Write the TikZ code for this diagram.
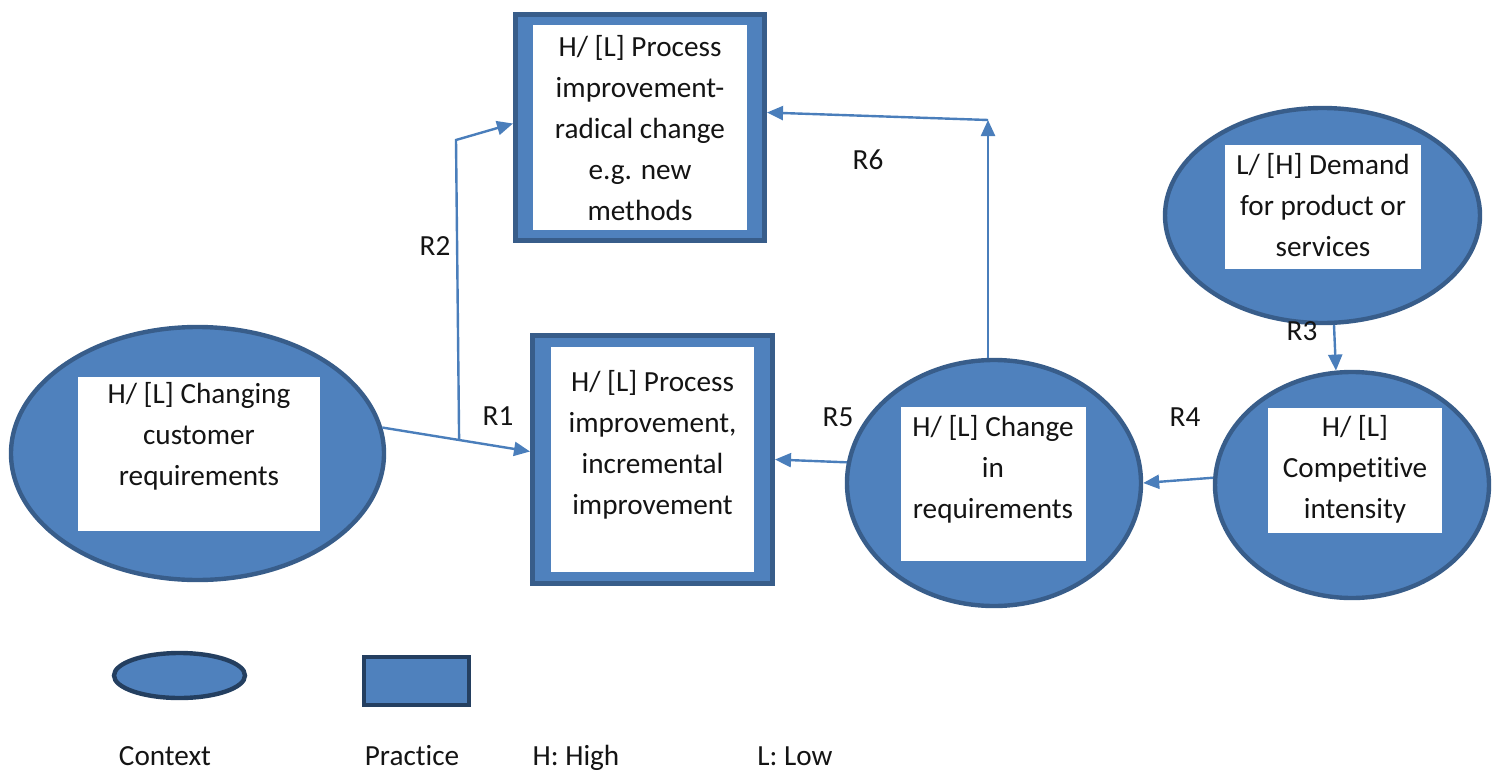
\documentclass[tikz,border=0pt]{standalone}
\usepackage{fontspec}
\setmainfont{Carlito}[Ligatures=NoCommon]
\usetikzlibrary{arrows.meta,shapes.geometric}
\definecolor{ctxfill}{HTML}{4F81BD}
\definecolor{ctxedge}{HTML}{385D8A}
\definecolor{keyedge}{HTML}{243F60}
\definecolor{linkcol}{HTML}{4A7EBB}
\definecolor{ink}{HTML}{141414}
\begin{document}
\begin{tikzpicture}[x=0.5pt,y=-0.5pt,
  font=\fontsize{14.6}{20.5}\selectfont,
  context/.style={ellipse, draw=ctxedge, line width=2.2pt, fill=ctxfill, inner sep=0pt},
  practice/.style={rectangle, draw=ctxedge, line width=2.5pt, fill=ctxfill, inner sep=0pt},
  card/.style={rectangle, fill=white, inner sep=0pt},
  txt/.style={align=center, text=ink, inner sep=0pt},
  link/.style={draw=linkcol, line width=1.2pt, -{Triangle[length=8pt,width=7pt]}},
  tag/.style={text=ink, anchor=base, inner sep=0pt}]
\useasboundingbox (0,0) rectangle (1493,771);

% practice: radical change
\node[practice, minimum width=124.5pt, minimum height=113pt] (tbox) at (640,127.5) {};
\node[card, minimum width=107pt, minimum height=102.5pt] (tcard) at (640,127.5) {};
\node[txt] (ttext) at (640,128) {H/ [L] Process\\improvement-\\radical change\\e.g. new\\methods};

% practice: incremental improvement
\node[practice, minimum width=120pt, minimum height=124pt] (mbox) at (652.5,459.5) {};
\node[card, minimum width=101.5pt, minimum height=112.5pt] (mcard) at (652.5,459.5) {};
\node[txt] (mtext) at (652.5,444.5) {H/ [L] Process\\improvement,\\incremental\\improvement};

% context: changing customer requirements
\node[context, minimum width=186.5pt, minimum height=126.5pt] (lell) at (197.5,453.5) {};
\node[card, minimum width=121pt, minimum height=77pt] (lcard) at (199,454) {};
\node[txt] (ltext) at (199,436) {H/ [L] Changing\\customer\\requirements};

% context: change in requirements
\node[context, minimum width=147pt, minimum height=123pt] (cell) at (994,483) {};
\node[card, minimum width=92.5pt, minimum height=77pt] (ccard) at (993.5,484) {};
\node[txt] (ctext) at (993,469) {H/ [L] Change\\in\\requirements};

% context: demand
\node[context, minimum width=157.5pt, minimum height=107.5pt] (dell) at (1322.5,215.5) {};
\node[card, minimum width=98pt, minimum height=62pt] (dcard) at (1323,207) {};
\node[txt] (dtext) at (1323,205) {L/ [H] Demand\\for product or\\services};

% context: competitive intensity
\node[context, minimum width=137pt, minimum height=113pt] (kell) at (1352,485) {};
\node[card, minimum width=87pt, minimum height=62.5pt] (kcard) at (1355,470.5) {};
\node[txt] (ktext) at (1355,469) {H/ [L]\\Competitive\\intensity};

% relations
\draw[link] (lell.8) -- coordinate[pos=0.52] (r2foot) ([yshift=4pt]mbox.west);
\coordinate (r2bend) at (456,140);
\draw[link] (r2foot) -- (r2bend) -- ([yshift=2pt]tbox.west);
\coordinate (r6top) at (988,120);
\draw[link] ([xshift=-3pt]cell.north) -- (r6top);
\draw[link] (r6top) -- ([yshift=7.5pt]tbox.east);
\draw[link] (cell.172) -- (mbox.east);
\draw[link] (kell.177) -- (cell.east);
\draw[link] (dell.-84) -- (kell.98);

\node[tag] (lr1) at (498,425) {R1};
\node[tag] (lr2) at (435,255) {R2};
\node[tag] (lr3) at (1302,340) {R3};
\node[tag] (lr4) at (1185,426) {R4};
\node[tag] (lr5) at (838,426) {R5};
\node[tag] (lr6) at (868,169) {R6};

% key
\node[context, draw=keyedge, minimum width=65.5pt, minimum height=22.5pt] (kctx) at (179.5,675.5) {};
\node[practice, draw=keyedge, line width=2pt, minimum width=52.5pt, minimum height=24pt] (kprac) at (416.5,681) {};
\node[tag] (kctxl) at (165,765) {Context};
\node[tag] (kpracl) at (412,765) {Practice};
\node[tag] (khigh) at (576,765) {H: High};
\node[tag] (klow) at (795,765) {L: Low};
\end{tikzpicture}
\end{document}
